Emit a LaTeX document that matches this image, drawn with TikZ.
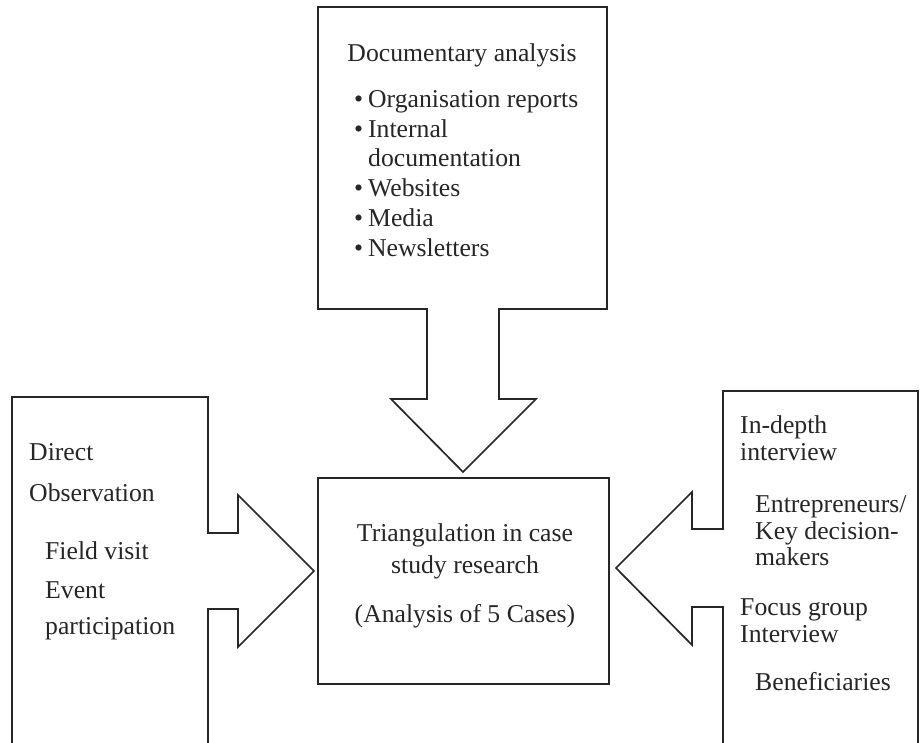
\documentclass[tikz,border=0pt]{standalone}
\usepackage{fontspec}
\setmainfont{Liberation Serif}
\begin{document}
\begin{tikzpicture}[x=1pt,y=-1pt,
  shapeline/.style={draw=black!85, line width=1.7pt, line join=miter, fill=white},
  txt/.style={inner sep=0pt, anchor=base west, font=\fontsize{25.7}{29.5}\selectfont, text=black!85},
  ctxt/.style={inner sep=0pt, anchor=base, font=\fontsize{25.7}{29.5}\selectfont, text=black!85}]
\clip (0,0) rectangle (923,743);
\fill[white] (0,0) rectangle (923,743);

% top callout (documentary analysis)
\draw[shapeline] (318,7) -- (607,7) -- (607,309) -- (499,309) -- (499,399) -- (536,399)
  -- (463,472) -- (391,399) -- (427,399) -- (427,309) -- (318,309) -- cycle;

% central box
\draw[shapeline] (318,478) rectangle (609,684);

% left callout (direct observation)
\draw[shapeline] (12,760) -- (12,397) -- (208,397) -- (208,533) -- (238,533) -- (238,495)
  -- (314,571) -- (238,647) -- (238,609) -- (208,609) -- (208,760);

% right callout (interviews)
\draw[shapeline] (723,760) -- (723,607) -- (692,607) -- (692,645) -- (616,568)
  -- (692,492) -- (692,529) -- (723,529) -- (723,391) -- (918,391) -- (918,760);

% top texts
\node[ctxt] (doc) at (462,62) {Documentary analysis};
\node[txt] (b1) at (354,108) {\makebox[14pt][l]{•}Organisation reports};
\node[txt] (b2) at (354,137.5) {\makebox[14pt][l]{•}Internal};
\node[txt] (b2b) at (368,167) {documentation};
\node[txt] (b3) at (354,197) {\makebox[14pt][l]{•}Websites};
\node[txt] (b4) at (354,227) {\makebox[14pt][l]{•}Media};
\node[txt] (b5) at (354,257) {\makebox[14pt][l]{•}Newsletters};

% central texts
\node[ctxt] (c1) at (465,541) {Triangulation in case};
\node[ctxt] (c2) at (465,573) {study research};
\node[ctxt] (c3) at (465,622) {(Analysis of 5 Cases)};

% left texts
\node[txt] (l1) at (29,460) {Direct};
\node[txt] (l2) at (29,501) {Observation};
\node[txt] (l3) at (45,559) {Field visit};
\node[txt] (l4) at (45,598) {Event};
\node[txt] (l5) at (45,634) {participation};

% right texts
\node[txt] (r1) at (740,433) {In-depth};
\node[txt] (r2) at (740,460) {interview};
\node[txt] (r3) at (755,512) {Entrepreneurs/};
\node[txt] (r4) at (755,539) {Key decision-};
\node[txt] (r5) at (755,565) {makers};
\node[txt] (r6) at (740,615) {Focus group};
\node[txt] (r7) at (740,642) {Interview};
\node[txt] (r8) at (755,690) {Beneficiaries};
\end{tikzpicture}
\end{document}
